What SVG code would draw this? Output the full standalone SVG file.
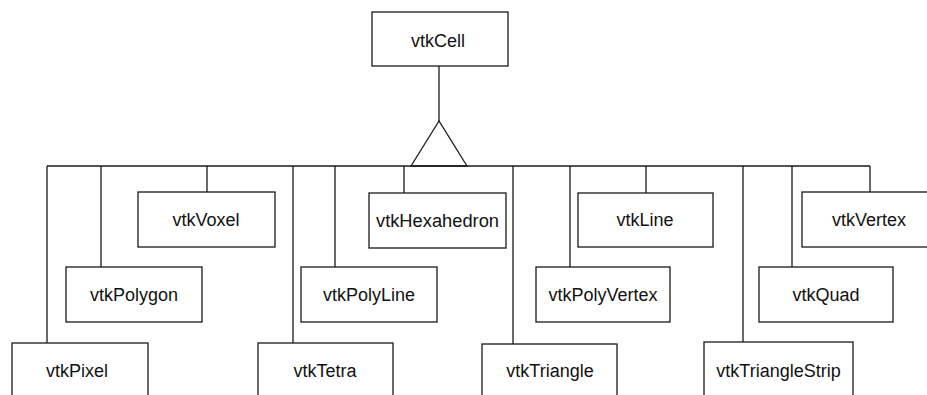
<svg xmlns="http://www.w3.org/2000/svg" width="927" height="395" viewBox="0 0 927 395">
<style>
.b{fill:#fff;stroke:#1a1a1a;stroke-width:1.3}
.c{fill:none;stroke:#1a1a1a;stroke-width:1.3}
text{font-family:"Liberation Sans",Arial,sans-serif;font-size:18px;fill:#111;text-anchor:middle}
</style>
<rect width="927" height="395" fill="#fff"/>
<g id="connectors">
<path class="c" d="M439 66V121"/>
<path class="c" d="M439 121L411 166H467Z"/>
<path class="c" d="M47 166H870"/>
<path class="c" d="M47 166V343M101 166V267M207 166V192M293 166V343M335 166V267M404 166V193M513 166V344M570 166V267M646 166V193M743 166V342M792 166V267M870 166V192"/>
</g>
<g id="vtkCell"><rect class="b" x="372" y="12" width="136" height="54"/><text x="438" y="47">vtkCell</text></g>
<g id="vtkVoxel"><rect class="b" x="138" y="192" width="137" height="55"/><text x="206" y="226">vtkVoxel</text></g>
<g id="vtkHexahedron"><rect class="b" x="369" y="193" width="137" height="55"/><text x="437.5" y="227" textLength="123" lengthAdjust="spacingAndGlyphs">vtkHexahedron</text></g>
<g id="vtkLine"><rect class="b" x="578" y="193" width="135" height="54"/><text x="645" y="226">vtkLine</text></g>
<g id="vtkVertex"><rect class="b" x="802" y="192" width="135" height="55"/><text x="869" y="226">vtkVertex</text></g>
<g id="vtkPolygon"><rect class="b" x="66" y="267" width="136" height="55"/><text x="134" y="301">vtkPolygon</text></g>
<g id="vtkPolyLine"><rect class="b" x="301" y="267" width="136" height="55"/><text x="369" y="301">vtkPolyLine</text></g>
<g id="vtkPolyVertex"><rect class="b" x="536" y="267" width="134" height="55"/><text x="603" y="301">vtkPolyVertex</text></g>
<g id="vtkQuad"><rect class="b" x="759" y="267" width="134" height="55"/><text x="826" y="301">vtkQuad</text></g>
<g id="vtkPixel"><rect class="b" x="12" y="343" width="136" height="60"/><text x="77" y="377">vtkPixel</text></g>
<g id="vtkTetra"><rect class="b" x="258" y="343" width="135" height="60"/><text x="325" y="377">vtkTetra</text></g>
<g id="vtkTriangle"><rect class="b" x="482" y="344" width="135" height="60"/><text x="550" y="377">vtkTriangle</text></g>
<g id="vtkTriangleStrip"><rect class="b" x="704" y="342" width="149" height="60"/><text x="778.5" y="377">vtkTriangleStrip</text></g>
</svg>
